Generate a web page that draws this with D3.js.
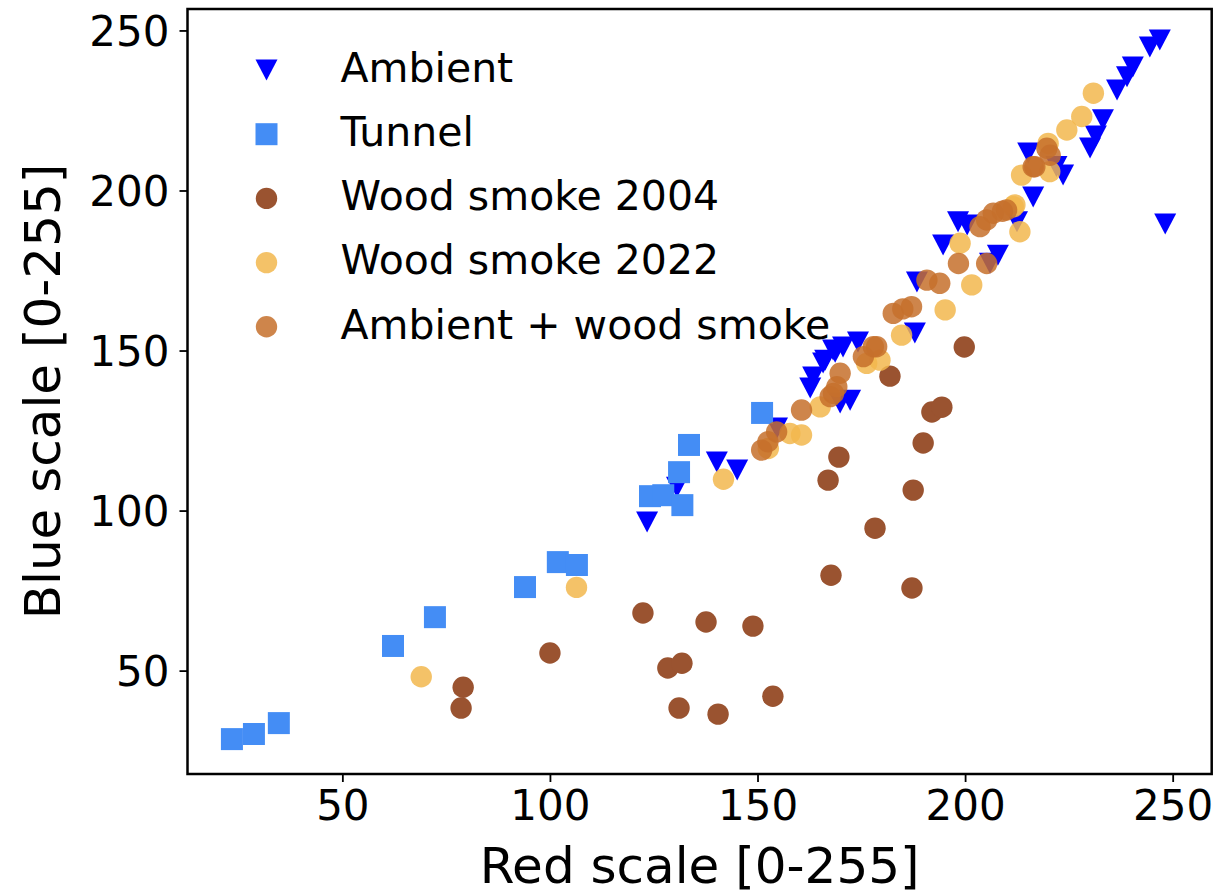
<!DOCTYPE html>
<html>
<head>
<meta charset="utf-8">
<script src="https://cdn.jsdelivr.net/npm/d3@7"></script>
<style>
  html, body { margin: 0; padding: 0; background: #fff; }
  svg { display: block; font-family: "DejaVu Sans", sans-serif; }
</style>
</head>
<body>
<svg id="chart" width="1219" height="895"></svg>
<script>
// Red vs. blue colour-scale readings per sample type, as [red, blue]
const ambient = [
  [123.4, 96.4], [140.2, 115.2], [145.1, 112.7], [130.6, 107.3], [154.7, 125.8],
  [163.4, 141.7], [162.7, 138.3], [165.8, 146.1], [168.2, 150.2], [170.6, 151.1],
  [174.2, 152.7], [172.3, 134.5], [169.9, 133.6], [166.3, 147.0], [168.7, 149.5],
  [187.9, 155.5], [188.4, 171.4], [194.7, 183.0], [198.3, 190.2], [200.5, 189.2],
  [206.0, 177.3], [207.9, 179.8], [212.5, 190.2], [215.2, 211.7], [216.4, 198.0],
  [223.6, 204.8], [222.0, 207.5], [230.1, 213.3], [231.5, 217.0], [233.2, 222.1],
  [236.6, 231.4], [239.0, 235.5], [240.4, 238.6], [244.5, 244.8], [246.9, 247.0],
  [248.2, 189.5]
];
const tunnel = [
  [23.4, 28.6], [28.7, 30.2], [34.7, 33.6], [62.2, 57.7], [72.3, 66.7],
  [94.0, 76.1], [101.9, 83.9], [106.5, 83.0], [124.1, 104.5], [127.3, 104.8],
  [131.9, 101.7], [131.1, 112.0], [133.5, 120.5], [151.1, 130.5]
];
const wood2004 = [
  [79.1, 44.8], [78.6, 38.3], [100.0, 55.5], [122.4, 68.0], [137.6, 65.2],
  [148.9, 63.9], [128.4, 50.8], [131.8, 52.3], [131.1, 38.3], [140.5, 36.4],
  [153.7, 42.0], [167.7, 79.8], [187.2, 75.8], [178.3, 94.5], [187.5, 106.4],
  [167.0, 109.5], [169.6, 116.7], [189.9, 121.1], [192.0, 130.8], [194.4, 132.3],
  [181.9, 142.0], [199.8, 151.1]
];
const wood2022 = [
  [69.0, 48.1], [106.4, 76.0], [141.8, 109.8], [152.6, 119.4], [157.8, 124.1],
  [160.6, 123.6], [165.1, 132.4], [176.3, 146.0], [179.5, 147.0], [184.7, 154.8],
  [195.2, 162.7], [201.6, 170.5], [198.8, 183.5], [213.2, 187.1], [212.0, 195.5],
  [211.6, 194.9], [213.6, 204.8], [220.4, 205.9], [220.0, 214.7], [224.5, 218.9],
  [228.1, 223.1], [230.9, 230.4]
];
const ambientWood = [
  [151.0, 118.9], [152.5, 121.5], [154.6, 124.6], [160.6, 131.4], [167.5, 135.6],
  [168.3, 136.6], [169.1, 138.7], [169.9, 142.9], [175.5, 148.1], [177.9, 151.2],
  [178.7, 151.2], [182.7, 161.6], [185.0, 163.0], [187.1, 163.7], [190.8, 172.0],
  [193.9, 171.0], [198.4, 177.2], [205.2, 177.2], [203.6, 188.7], [205.2, 190.8],
  [206.8, 192.9], [209.0, 193.5], [210.0, 193.9], [216.4, 207.4], [216.8, 207.4],
  [219.7, 213.2], [220.5, 211.0]
];

const seriesNames = ["Ambient", "Tunnel", "Wood smoke 2004", "Wood smoke 2022", "Ambient + wood smoke"];
const xTicks = [50, 100, 150, 200, 250];
const yTicks = [50, 100, 150, 200, 250];
const xTitle = "Red scale [0-255]";
const yTitle = "Blue scale [0-255]";

const series = [
  { name: seriesNames[0], data: ambient,     shape: "triangle", color: "#0000ff", opacity: 1 },
  { name: seriesNames[1], data: tunnel,      shape: "square",   color: "#448df5", opacity: 1 },
  { name: seriesNames[2], data: wood2004,    shape: "circle",   color: "#9a5330", opacity: 1 },
  { name: seriesNames[3], data: wood2022,    shape: "circle",   color: "#f2b74e", opacity: 0.85 },
  { name: seriesNames[4], data: ambientWood, shape: "circle",   color: "#c6702c", opacity: 0.85 }
];

const svg = d3.select("#chart");
const plot = { left: 187.5, right: 1211.7, top: 9, bottom: 774 };

const x = d3.scaleLinear().domain([12.7, 259.4]).range([plot.left, plot.right]);
const y = d3.scaleLinear().domain([17.7, 256.7]).range([plot.bottom, plot.top]);

// marker path generators (centred on 0,0)
function markerPath(shape) {
  if (shape === "triangle") return "M-11,-10.5L11,-10.5L0,10.5Z";
  if (shape === "square") return "M-11,-11H11V11H-11Z";
  return d3.symbol(d3.symbolCircle, Math.PI * 10.7 * 10.7)();
}

// axes
const xAxis = d3.axisBottom(x).tickValues(xTicks).tickSize(8).tickPadding(8);
const yAxis = d3.axisLeft(y).tickValues(yTicks).tickSize(8).tickPadding(10);

const gx = svg.append("g").attr("transform", `translate(0,${plot.bottom})`).call(xAxis);
const gy = svg.append("g").attr("transform", `translate(${plot.left},0)`).call(yAxis);
[gx, gy].forEach(g => {
  g.select(".domain").remove();
  g.selectAll(".tick line").attr("stroke", "#000").attr("stroke-width", 1.8);
  g.selectAll(".tick text")
    .attr("fill", "#000")
    .style("font-size", "42px")
    .style("font-family", "'DejaVu Sans', sans-serif");
});
gx.selectAll(".tick text").attr("dy", "0.72em");
gy.selectAll(".tick text").attr("dy", "0.36em");

// points
series.forEach(s => {
  svg.append("g")
    .selectAll("path")
    .data(s.data)
    .join("path")
    .attr("d", markerPath(s.shape))
    .attr("transform", d => `translate(${x(d[0])},${y(d[1])})`)
    .attr("fill", s.color)
    .attr("fill-opacity", s.opacity);
});

// frame
svg.append("rect")
  .attr("x", plot.left).attr("y", plot.top)
  .attr("width", plot.right - plot.left).attr("height", plot.bottom - plot.top)
  .attr("fill", "none").attr("stroke", "#000").attr("stroke-width", 2.5);

// axis titles
svg.append("text")
  .attr("x", (plot.left + plot.right) / 2).attr("y", 883)
  .attr("text-anchor", "middle")
  .style("font-size", "50px")
  .text(xTitle);

svg.append("text")
  .attr("transform", `translate(60,${(plot.top + plot.bottom) / 2}) rotate(-90)`)
  .attr("text-anchor", "middle")
  .style("font-size", "50px")
  .text(yTitle);

// legend
const legend = svg.append("g");
series.forEach((s, i) => {
  const ly = 70 + i * 64.2;
  legend.append("path")
    .attr("d", markerPath(s.shape))
    .attr("transform", `translate(266.5,${ly})`)
    .attr("fill", s.color)
    .attr("fill-opacity", s.opacity);
  legend.append("text")
    .attr("x", 340.5).attr("y", ly - 3)
    .attr("dy", "0.36em")
    .style("font-size", "41px")
    .text(s.name);
});
</script>
</body>
</html>
